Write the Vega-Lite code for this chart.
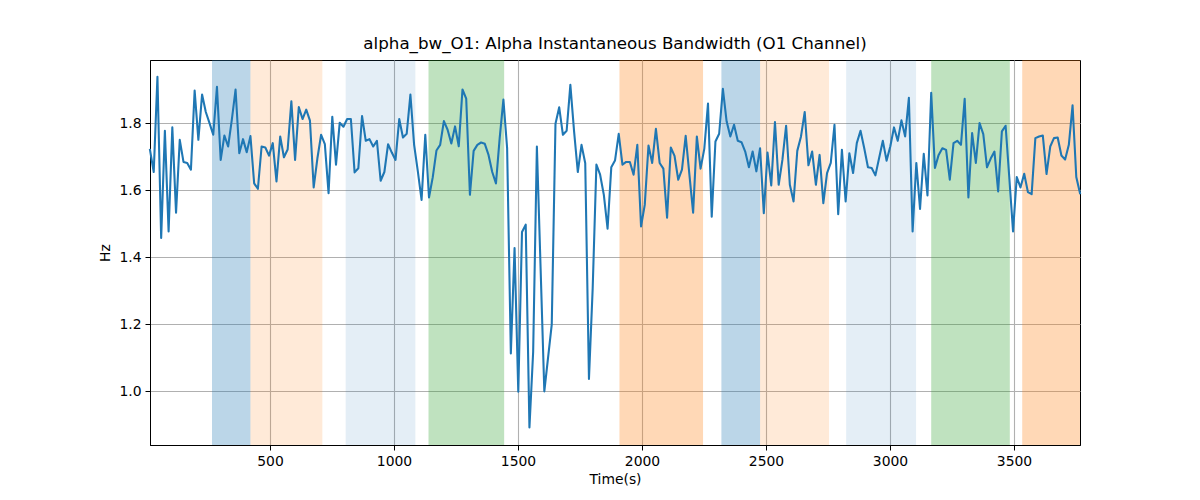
{
"$schema": "https://vega.github.io/schema/vega-lite/v6.json",
"width": 930,
"height": 385,
"autosize": {"type": "none"},
"padding": {"left": 150, "top": 60, "right": 120, "bottom": 55},
"background": "white",
"config": {
  "font": "DejaVu Sans",
  "view": {"stroke": "black", "strokeWidth": 1},
  "axis": {
    "domainColor": "black", "domainWidth": 1,
    "tickColor": "black", "tickSize": 5, "tickWidth": 1,
    "labelFont": "DejaVu Sans", "labelFontSize": 13.9, "labelColor": "black", "labelPadding": 4,
    "titleFont": "DejaVu Sans", "titleFontSize": 13.9, "titleFontWeight": "normal", "titleColor": "black",
    "gridColor": "#b0b0b0", "gridWidth": 1.1, "gridOpacity": 1
  }
},
"title": {"text": "alpha_bw_O1: Alpha Instantaneous Bandwidth (O1 Channel)", "font": "DejaVu Sans", "fontSize": 16.7, "fontWeight": "normal", "color": "black", "offset": 7},
"datasets": {
  "bands": [
    {"start": 266, "end": 421, "kind": "A"},
    {"start": 421, "end": 711, "kind": "B"},
    {"start": 805, "end": 1086, "kind": "C"},
    {"start": 1139, "end": 1444, "kind": "D"},
    {"start": 1909, "end": 2246, "kind": "E"},
    {"start": 2320, "end": 2476, "kind": "A"},
    {"start": 2476, "end": 2754, "kind": "B"},
    {"start": 2823, "end": 3105, "kind": "C"},
    {"start": 3166, "end": 3483, "kind": "D"},
    {"start": 3533, "end": 3766, "kind": "E"}
  ],
  "series": [
    {"t":16,"hz":1.72},{"t":31,"hz":1.654},{"t":46,"hz":1.938},{"t":61,"hz":1.457},{"t":76,"hz":1.777},
    {"t":91,"hz":1.477},{"t":106,"hz":1.787},{"t":121,"hz":1.533},{"t":136,"hz":1.75},{"t":151,"hz":1.684},
    {"t":166,"hz":1.681},{"t":181,"hz":1.661},{"t":196,"hz":1.897},{"t":211,"hz":1.75},{"t":226,"hz":1.885},
    {"t":241,"hz":1.833},{"t":256,"hz":1.8},{"t":271,"hz":1.765},{"t":286,"hz":1.908},{"t":301,"hz":1.69},
    {"t":316,"hz":1.763},{"t":331,"hz":1.73},{"t":346,"hz":1.81},{"t":361,"hz":1.9},{"t":376,"hz":1.71},
    {"t":391,"hz":1.752},{"t":406,"hz":1.713},{"t":421,"hz":1.761},{"t":436,"hz":1.62},{"t":451,"hz":1.604},
    {"t":466,"hz":1.73},{"t":481,"hz":1.727},{"t":496,"hz":1.703},{"t":511,"hz":1.74},{"t":526,"hz":1.626},
    {"t":541,"hz":1.76},{"t":556,"hz":1.698},{"t":571,"hz":1.721},{"t":586,"hz":1.865},{"t":601,"hz":1.69},
    {"t":616,"hz":1.848},{"t":631,"hz":1.812},{"t":646,"hz":1.84},{"t":661,"hz":1.807},{"t":676,"hz":1.608},
    {"t":691,"hz":1.695},{"t":706,"hz":1.765},{"t":721,"hz":1.737},{"t":736,"hz":1.591},{"t":751,"hz":1.819},
    {"t":766,"hz":1.676},{"t":781,"hz":1.801},{"t":796,"hz":1.789},{"t":811,"hz":1.812},{"t":826,"hz":1.812},
    {"t":841,"hz":1.653},{"t":856,"hz":1.665},{"t":871,"hz":1.821},{"t":886,"hz":1.747},{"t":901,"hz":1.752},
    {"t":916,"hz":1.73},{"t":931,"hz":1.747},{"t":946,"hz":1.628},{"t":961,"hz":1.654},{"t":976,"hz":1.737},
    {"t":991,"hz":1.712},{"t":1006,"hz":1.69},{"t":1021,"hz":1.812},{"t":1036,"hz":1.757},{"t":1051,"hz":1.768},
    {"t":1066,"hz":1.885},{"t":1081,"hz":1.735},{"t":1096,"hz":1.656},{"t":1111,"hz":1.571},{"t":1126,"hz":1.765},
    {"t":1141,"hz":1.578},{"t":1156,"hz":1.638},{"t":1171,"hz":1.718},{"t":1186,"hz":1.735},{"t":1201,"hz":1.806},
    {"t":1216,"hz":1.78},{"t":1231,"hz":1.739},{"t":1246,"hz":1.79},{"t":1261,"hz":1.731},{"t":1276,"hz":1.9},
    {"t":1291,"hz":1.873},{"t":1306,"hz":1.586},{"t":1321,"hz":1.717},{"t":1336,"hz":1.735},{"t":1351,"hz":1.742},
    {"t":1366,"hz":1.738},{"t":1381,"hz":1.705},{"t":1396,"hz":1.654},{"t":1411,"hz":1.62},{"t":1426,"hz":1.755},
    {"t":1441,"hz":1.87},{"t":1456,"hz":1.725},{"t":1471,"hz":1.113},{"t":1486,"hz":1.427},{"t":1501,"hz":0.999},
    {"t":1516,"hz":1.475},{"t":1531,"hz":1.497},{"t":1546,"hz":0.892},{"t":1561,"hz":1.118},{"t":1576,"hz":1.73},
    {"t":1591,"hz":1.367},{"t":1606,"hz":1.0},{"t":1621,"hz":1.1},{"t":1636,"hz":1.2},{"t":1651,"hz":1.798},
    {"t":1666,"hz":1.847},{"t":1681,"hz":1.765},{"t":1696,"hz":1.777},{"t":1711,"hz":1.914},{"t":1726,"hz":1.775},
    {"t":1741,"hz":1.654},{"t":1756,"hz":1.735},{"t":1771,"hz":1.68},{"t":1786,"hz":1.037},{"t":1801,"hz":1.307},
    {"t":1816,"hz":1.676},{"t":1831,"hz":1.646},{"t":1846,"hz":1.586},{"t":1861,"hz":1.485},{"t":1876,"hz":1.668},
    {"t":1891,"hz":1.688},{"t":1906,"hz":1.768},{"t":1921,"hz":1.676},{"t":1936,"hz":1.684},{"t":1951,"hz":1.684},
    {"t":1966,"hz":1.646},{"t":1981,"hz":1.735},{"t":1996,"hz":1.492},{"t":2011,"hz":1.556},{"t":2026,"hz":1.733},
    {"t":2041,"hz":1.681},{"t":2056,"hz":1.783},{"t":2071,"hz":1.681},{"t":2086,"hz":1.664},{"t":2101,"hz":1.518},
    {"t":2116,"hz":1.727},{"t":2131,"hz":1.702},{"t":2146,"hz":1.631},{"t":2161,"hz":1.661},{"t":2176,"hz":1.762},
    {"t":2191,"hz":1.646},{"t":2206,"hz":1.533},{"t":2221,"hz":1.76},{"t":2236,"hz":1.664},{"t":2251,"hz":1.723},
    {"t":2266,"hz":1.858},{"t":2281,"hz":1.521},{"t":2296,"hz":1.745},{"t":2311,"hz":1.768},{"t":2326,"hz":1.902},
    {"t":2341,"hz":1.805},{"t":2356,"hz":1.76},{"t":2371,"hz":1.795},{"t":2386,"hz":1.747},{"t":2401,"hz":1.743},
    {"t":2416,"hz":1.715},{"t":2431,"hz":1.668},{"t":2446,"hz":1.715},{"t":2461,"hz":1.656},{"t":2476,"hz":1.725},
    {"t":2491,"hz":1.531},{"t":2506,"hz":1.712},{"t":2521,"hz":1.614},{"t":2536,"hz":1.803},{"t":2551,"hz":1.616},
    {"t":2566,"hz":1.69},{"t":2581,"hz":1.792},{"t":2596,"hz":1.616},{"t":2611,"hz":1.566},{"t":2626,"hz":1.717},
    {"t":2641,"hz":1.76},{"t":2656,"hz":1.833},{"t":2671,"hz":1.674},{"t":2686,"hz":1.715},{"t":2701,"hz":1.616},
    {"t":2716,"hz":1.705},{"t":2731,"hz":1.561},{"t":2746,"hz":1.651},{"t":2761,"hz":1.681},{"t":2776,"hz":1.795},
    {"t":2791,"hz":1.528},{"t":2806,"hz":1.72},{"t":2821,"hz":1.566},{"t":2836,"hz":1.71},{"t":2851,"hz":1.651},
    {"t":2866,"hz":1.74},{"t":2881,"hz":1.777},{"t":2896,"hz":1.725},{"t":2911,"hz":1.668},{"t":2926,"hz":1.666},
    {"t":2941,"hz":1.644},{"t":2956,"hz":1.696},{"t":2971,"hz":1.747},{"t":2986,"hz":1.688},{"t":3001,"hz":1.73},
    {"t":3016,"hz":1.787},{"t":3031,"hz":1.747},{"t":3046,"hz":1.808},{"t":3061,"hz":1.76},{"t":3076,"hz":1.875},
    {"t":3091,"hz":1.477},{"t":3106,"hz":1.681},{"t":3121,"hz":1.544},{"t":3136,"hz":1.708},{"t":3151,"hz":1.584},
    {"t":3166,"hz":1.89},{"t":3181,"hz":1.666},{"t":3196,"hz":1.705},{"t":3211,"hz":1.725},{"t":3226,"hz":1.72},
    {"t":3241,"hz":1.631},{"t":3256,"hz":1.74},{"t":3271,"hz":1.747},{"t":3286,"hz":1.735},{"t":3301,"hz":1.872},
    {"t":3316,"hz":1.578},{"t":3331,"hz":1.77},{"t":3346,"hz":1.681},{"t":3361,"hz":1.8},{"t":3376,"hz":1.767},
    {"t":3391,"hz":1.668},{"t":3406,"hz":1.694},{"t":3421,"hz":1.715},{"t":3436,"hz":1.596},{"t":3451,"hz":1.775},
    {"t":3466,"hz":1.792},{"t":3481,"hz":1.636},{"t":3496,"hz":1.477},{"t":3511,"hz":1.639},{"t":3526,"hz":1.608},
    {"t":3541,"hz":1.649},{"t":3556,"hz":1.594},{"t":3571,"hz":1.588},{"t":3586,"hz":1.755},{"t":3601,"hz":1.76},
    {"t":3616,"hz":1.763},{"t":3631,"hz":1.648},{"t":3646,"hz":1.73},{"t":3661,"hz":1.755},{"t":3676,"hz":1.757},
    {"t":3691,"hz":1.703},{"t":3706,"hz":1.691},{"t":3721,"hz":1.735},{"t":3736,"hz":1.853},{"t":3751,"hz":1.639},
    {"t":3766,"hz":1.591}
  ]
},
"layer": [
  {
    "data": {"name": "bands"},
    "mark": {"type": "rect"},
    "encoding": {
      "x": {"field": "start", "type": "quantitative", "scale": {"domain": [16, 3766], "nice": false, "zero": false},
            "axis": {"values": [500, 1000, 1500, 2000, 2500, 3000, 3500], "format": "d", "title": "Time(s)", "titlePadding": 5, "grid": true}},
      "x2": {"field": "end"},
      "color": {"field": "kind", "type": "nominal", "legend": null,
                "scale": {"domain": ["A", "B", "C", "D", "E"],
                          "range": ["rgba(31,119,180,0.3)", "rgba(255,127,14,0.16)", "rgba(31,119,180,0.12)", "rgba(44,160,44,0.3)", "rgba(255,127,14,0.3)"]}}
    }
  },
  {
    "data": {"name": "series"},
    "mark": {"type": "line", "color": "#1f77b4", "strokeWidth": 2.08, "strokeJoin": "round", "strokeCap": "square"},
    "encoding": {
      "x": {"field": "t", "type": "quantitative"},
      "y": {"field": "hz", "type": "quantitative", "scale": {"domain": [0.84, 1.988], "nice": false, "zero": false},
            "axis": {"values": [1.0, 1.2, 1.4, 1.6, 1.8], "format": ".1f", "title": "Hz", "titlePadding": 6, "grid": true}}
    }
  }
]
}
